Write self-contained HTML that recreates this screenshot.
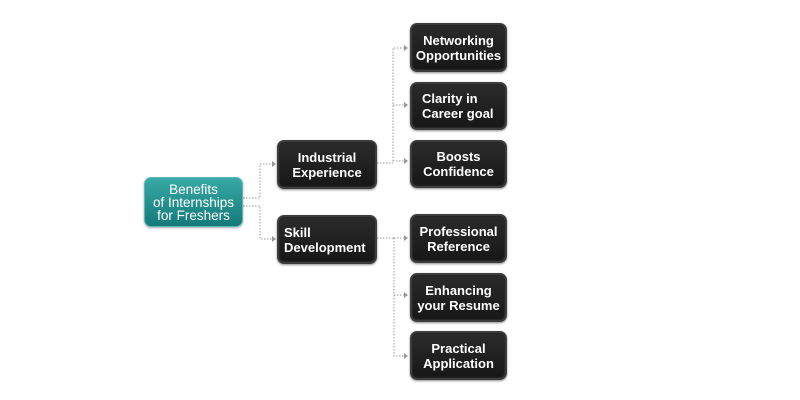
<!DOCTYPE html>
<html><head><meta charset="utf-8"><style>
html,body{margin:0;padding:0;background:#fff;}
body{width:800px;height:400px;position:relative;overflow:hidden;font-family:"Liberation Sans",sans-serif;}
.b{position:absolute;box-sizing:border-box;border-radius:7px;background:linear-gradient(#2b2b2b,#171717);border:2px solid #3d3d3d;box-shadow:0 1px 2px rgba(0,0,0,0.45),inset 0 0 0 1px #262626;color:#fff;font-weight:bold;font-size:13px;line-height:15px;display:flex;flex-direction:column;justify-content:center;text-align:center;}
.r{position:absolute;box-sizing:border-box;border-radius:7px;background:linear-gradient(#38aaa6,#15797a);border:1px solid #5cbab6;box-shadow:0 1px 2px rgba(0,0,0,0.35);color:#fff;font-size:13.5px;line-height:13px;display:flex;flex-direction:column;justify-content:center;text-align:center;}
svg{position:absolute;left:0;top:0;}
</style></head><body>
<svg width="800" height="400">
<g stroke="#999" stroke-width="1" stroke-dasharray="1.5,1.5" fill="none">
<path d="M243 198 H260 V164 H272"/>
<path d="M243 206 H260 V239 H272"/>
<path d="M377 163 H393 M393 161 V48 H404 M393 105 H404 M393 161 H404"/>
<path d="M377 238 H394 M394 238 V356 H404 M394 238 H404 M394 295 H404"/>
</g>
<g fill="#999">
<path d="M272 161 L276 164 L272 167 Z"/>
<path d="M272 236 L276 239 L272 242 Z"/>
<path d="M404 45 L408 48 L404 51 Z"/>
<path d="M404 102 L408 105 L404 108 Z"/>
<path d="M404 158 L408 161 L404 164 Z"/>
<path d="M404 235 L408 238 L404 241 Z"/>
<path d="M404 292 L408 295 L404 298 Z"/>
<path d="M404 353 L408 356 L404 359 Z"/>
</g>
</svg>
<div class="r" style="left:144px;top:177px;width:99px;height:50px;"><div>Benefits</div><div>of Internships</div><div>for Freshers</div></div>
<div class="b" style="left:277px;top:140px;width:100px;height:49px;"><div>Industrial</div><div>Experience</div></div>
<div class="b" style="left:277px;top:215px;width:100px;height:49px;text-align:left;padding-left:5px;"><div>Skill</div><div>Development</div></div>
<div class="b" style="left:410px;top:23px;width:97px;height:49px;"><div>Networking</div><div>Opportunities</div></div>
<div class="b" style="left:410px;top:82px;width:97px;height:48px;text-align:left;padding-left:10px;"><div>Clarity in</div><div>Career goal</div></div>
<div class="b" style="left:410px;top:140px;width:97px;height:48px;"><div>Boosts</div><div>Confidence</div></div>
<div class="b" style="left:410px;top:214px;width:97px;height:49px;"><div>Professional</div><div>Reference</div></div>
<div class="b" style="left:410px;top:273px;width:97px;height:49px;"><div>Enhancing</div><div>your Resume</div></div>
<div class="b" style="left:410px;top:331px;width:97px;height:49px;"><div>Practical</div><div>Application</div></div>
</body></html>
